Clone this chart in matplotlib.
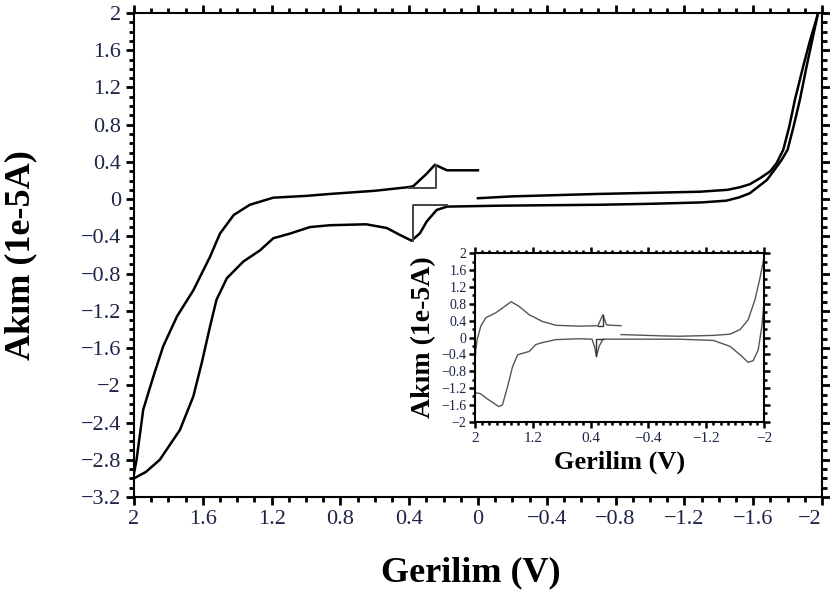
import numpy as np
import matplotlib.pyplot as plt
from matplotlib.ticker import MultipleLocator, FixedLocator, FuncFormatter

plt.rcParams['font.family'] = ['Liberation Serif', 'DejaVu Serif']

# ana grafik: ust kol (sol kisim)
up_left_v = [2.0, 1.985, 1.946, 1.888, 1.83, 1.75, 1.655, 1.558, 1.50, 1.42, 1.326, 1.19,
             1.0, 0.86, 0.6, 0.40, 0.376, 0.30, 0.25, 0.18, 0.10, 0.0]
up_left_i = [-2.95, -2.80, -2.26, -1.91, -1.58, -1.26, -0.98, -0.62, -0.37, -0.17, -0.06, 0.016,
             0.035, 0.056, 0.09, 0.13, 0.14, 0.27, 0.37, 0.31, 0.31, 0.31]

# ana grafik: alt kol
low_v = [2.0, 1.93, 1.85, 1.733, 1.655, 1.606, 1.558, 1.52, 1.46, 1.364, 1.267, 1.19, 1.093,
         0.977, 0.86, 0.65, 0.53, 0.453, 0.386, 0.337, 0.298, 0.24, 0.18, -0.128, -0.71, -1.0,
         -1.3, -1.445, -1.52, -1.58, -1.68, -1.73, -1.765, -1.80, -1.835, -1.872, -1.91, -1.94,
         -1.975]
low_i = [-3.0, -2.93, -2.80, -2.48, -2.12, -1.76, -1.37, -1.08, -0.85, -0.67, -0.55, -0.42, -0.37,
         -0.30, -0.28, -0.27, -0.31, -0.385, -0.446, -0.366, -0.24, -0.116, -0.08, -0.07, -0.06, -0.05,
         -0.035, -0.016, 0.02, 0.063, 0.206, 0.33, 0.42, 0.53, 0.78, 1.07, 1.42, 1.68,
         1.98]

# ana grafik: ust kol (sag kisim)
up_right_v = [0.0, -0.2, -0.7, -1.0, -1.29, -1.45, -1.523, -1.58, -1.64, -1.70, -1.736, -1.775,
              -1.81, -1.843, -1.87, -1.89, -1.93, -1.975]
up_right_i = [0.01, 0.03, 0.056, 0.068, 0.08, 0.10, 0.128, 0.16, 0.225, 0.30, 0.386, 0.53,
              0.78, 1.07, 1.27, 1.42, 1.70, 1.98]

# pik isaretleri
mark_up_v = [0.40, 0.244, 0.244]
mark_up_i = [0.117, 0.117, 0.37]
mark_low_v = [0.376, 0.376, 0.18]
mark_low_i = [-0.45, -0.063, -0.063]

# ic grafik
in_up_v = [2.0, 1.99, 1.97, 1.92, 1.85, 1.71, 1.62, 1.50, 1.39, 1.25, 1.065, 0.88, 0.56,
           0.30, 0.23, 0.18, 0.10, -0.02]
in_up_i = [-0.6, -0.3, -0.05, 0.27, 0.47, 0.59, 0.70, 0.85, 0.74, 0.54, 0.38, 0.29, 0.27,
           0.28, 0.54, 0.30, 0.29, 0.28]
in_low_v = [2.0, 1.93, 1.81, 1.67, 1.62, 1.55, 1.48, 1.41, 1.25, 1.16, 1.09, 0.88, 0.56, 0.38,
            0.34, 0.32, 0.28, 0.23, -0.09, -0.83, -1.3, -1.53, -1.67, -1.78, -1.85, -1.92,
            -1.97, -2.0, -2.0]
in_low_i = [-1.31, -1.33, -1.48, -1.64, -1.6, -1.17, -0.69, -0.41, -0.33, -0.17, -0.13, -0.05,
            -0.03, -0.04, -0.25, -0.45, -0.2, -0.04, -0.04, -0.04, -0.07, -0.21, -0.41, -0.59,
            -0.55, -0.29, 0.26, 0.82, 1.9]
in_right_v = [-0.02, -0.56, -0.83, -1.3, -1.53, -1.67, -1.78, -1.875, -1.94, -2.0]
in_right_i = [0.07, 0.04, 0.03, 0.05, 0.08, 0.19, 0.42, 0.9, 1.38, 1.9]
in_mark_up_v = [0.30, 0.23, 0.23]
in_mark_up_i = [0.28, 0.28, 0.54]
in_mark_low_v = [0.32, 0.32, 0.23]
in_mark_low_i = [-0.45, -0.03, -0.03]
in_xticks = [2, 1.2, 0.4, -0.4, -1.2, -2]

tick_color = '#1c2448'


def fmt(v, _):
    v = round(v, 3)
    if abs(v) < 1e-9:
        v = 0
    return f"{v:g}".replace('-', '\u2212')


fig = plt.figure(figsize=(8.3, 5.94), dpi=100)
ax = fig.add_axes([0.1614, 0.1633, 0.8289, 0.8148])

ax.plot(up_left_v, up_left_i, color='black', lw=1.8)
ax.plot(low_v, low_i, color='black', lw=1.8)
ax.plot(up_right_v, up_right_i, color='black', lw=1.8)
ax.plot(mark_up_v, mark_up_i, color='#444444', lw=1.4)
ax.plot(mark_low_v, mark_low_i, color='#444444', lw=1.4)

ax.set_xlim(2, -2)
ax.set_ylim(-3.2, 2)
ax.xaxis.set_major_locator(MultipleLocator(0.4))
ax.xaxis.set_minor_locator(MultipleLocator(0.1))
ax.yaxis.set_major_locator(MultipleLocator(0.4))
ax.yaxis.set_minor_locator(MultipleLocator(0.1))
ax.xaxis.set_major_formatter(FuncFormatter(fmt))
ax.yaxis.set_major_formatter(FuncFormatter(fmt))
ax.tick_params(which='both', direction='out', top=True, right=True, width=2,
               labelsize=16, labelcolor=tick_color)
ax.tick_params(which='major', length=6)
ax.tick_params(which='minor', length=3.5)
for s in ax.spines.values():
    s.set_linewidth(1.5)

ax.set_xlabel('Gerilim (V)', fontsize=26, fontweight='bold')
ax.set_ylabel('Akım (1e-5A)', fontsize=26, fontweight='bold')
ax.xaxis.set_label_coords(0.49, -0.122)
ax.yaxis.set_label_coords(-0.14, 0.5)

# ic grafik
ins = fig.add_axes([0.5723, 0.290, 0.3482, 0.2836])
ins.plot(in_up_v, in_up_i, color='#555555', lw=1.0)
ins.plot(in_low_v, in_low_i, color='#555555', lw=1.0)
ins.plot(in_right_v, in_right_i, color='#555555', lw=1.0)
ins.plot(in_mark_up_v, in_mark_up_i, color='#333333', lw=1.0)
ins.plot(in_mark_low_v, in_mark_low_i, color='#333333', lw=1.0)
ins.set_xlim(2, -2)
ins.set_ylim(-2, 2)
ins.xaxis.set_major_locator(FixedLocator(in_xticks))
ins.xaxis.set_minor_locator(MultipleLocator(0.1))
ins.yaxis.set_major_locator(MultipleLocator(0.4))
ins.yaxis.set_minor_locator(MultipleLocator(0.2))
ins.xaxis.set_major_formatter(FuncFormatter(fmt))
ins.yaxis.set_major_formatter(FuncFormatter(fmt))
ins.tick_params(which='both', direction='out', top=True, right=True, width=1.8,
                labelcolor=tick_color)
ins.tick_params(axis='x', labelsize=11)
ins.tick_params(axis='y', labelsize=10, pad=2)
ins.tick_params(which='major', length=4)
ins.tick_params(which='minor', length=2.5)
for s in ins.spines.values():
    s.set_linewidth(1.5)
ins.set_xlabel('Gerilim (V)', fontsize=19, fontweight='bold', labelpad=4)
ins.set_ylabel('Akım (1e-5A)', fontsize=20, fontweight='bold', labelpad=4)

# sag kenardaki "-2" etiketini iceri al
fig.canvas.draw()
for t in ax.xaxis.get_major_ticks():
    if abs(t.get_loc() + 2) < 1e-6:
        t.label1.set_horizontalalignment('right')
        t.label1.set_x(t.get_loc())

fig.savefig('out.png', dpi=100)
